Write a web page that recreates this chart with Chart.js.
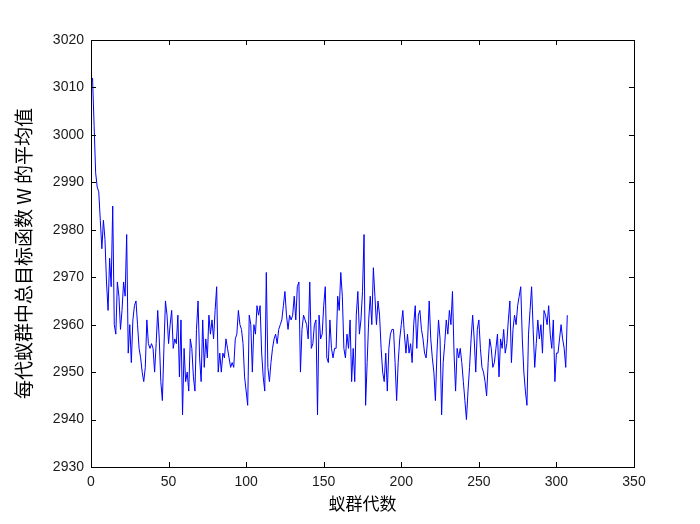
<!DOCTYPE html>
<html>
<head>
<meta charset="utf-8">
<script src="https://cdn.jsdelivr.net/npm/chart.js"></script>
<style>
  html, body { margin: 0; padding: 0; background: #fff; }
  #wrap { width: 700px; height: 524px; }
</style>
</head>
<body>
<div id="wrap"><canvas id="antChart" width="700" height="524"></canvas></div>
<script>
// average objective W for each ant generation
var avgW = [
  3012, 3002, 2992, 2989, 2988, 2982, 2976, 2982, 2978, 2969,
  2963, 2974, 2968, 2985, 2960, 2958, 2969, 2966, 2959, 2963,
  2969, 2966, 2979, 2954, 2960, 2952, 2961, 2964, 2965, 2960,
  2955, 2953, 2950, 2948, 2951, 2961, 2956, 2955, 2956, 2955,
  2950, 2956, 2963, 2957, 2948, 2944, 2955, 2965, 2962, 2956,
  2960, 2963, 2955, 2957, 2956, 2962, 2949, 2961, 2941, 2955,
  2948, 2950, 2946, 2957, 2955, 2949, 2946, 2959, 2965, 2953,
  2948, 2961, 2951, 2957, 2953, 2962, 2958, 2961, 2957, 2963,
  2968, 2950, 2954, 2950, 2954, 2953, 2957, 2955, 2953, 2951,
  2952, 2951, 2957, 2958, 2963, 2960, 2959, 2956, 2949,
  2946, 2943, 2962, 2960, 2950, 2960, 2958, 2964, 2962, 2964,
  2954, 2949, 2946, 2971, 2951, 2948, 2952, 2955, 2957, 2958,
  2956, 2959, 2960, 2961, 2964, 2967, 2962, 2959, 2962, 2961,
  2962, 2966, 2961, 2968, 2969, 2950, 2959, 2962, 2961, 2960,
  2957, 2969, 2955, 2956, 2960, 2961, 2941,
  2962, 2957, 2958, 2964, 2968, 2953, 2952, 2961, 2955, 2953,
  2955, 2955, 2966, 2963, 2971, 2966, 2955, 2953, 2958, 2955,
  2961, 2948, 2955, 2948, 2962, 2967, 2958, 2961, 2967, 2979,
  2943, 2952, 2961, 2966, 2960, 2972, 2966, 2960, 2965, 2962,
  2955, 2950, 2948, 2954, 2946, 2955, 2958, 2959, 2959,
  2952, 2944, 2952, 2957, 2960, 2963, 2958, 2954, 2958, 2954,
  2956, 2952, 2960, 2964, 2955, 2962, 2963, 2959, 2957, 2954,
  2953, 2957, 2965, 2957, 2953, 2950, 2944, 2954, 2961, 2957,
  2941, 2952, 2956, 2961, 2958, 2963, 2960, 2967, 2954, 2946,
  2955, 2953, 2955, 2952, 2948, 2944, 2940,
  2946, 2951, 2957, 2962, 2957, 2950, 2959, 2961, 2955, 2951,
  2950, 2948, 2945, 2952, 2957, 2955, 2951, 2952, 2955, 2958,
  2949, 2957, 2955, 2959, 2954, 2956, 2961, 2965, 2952, 2959,
  2962, 2960, 2964, 2966, 2968, 2957, 2950, 2946, 2943, 2958,
  2963, 2968, 2959, 2951, 2956, 2961, 2957, 2960, 2954, 2963,
  2962, 2960, 2964, 2958, 2955, 2961, 2948, 2954, 2954, 2957,
  2960, 2957, 2955, 2951, 2962
];
var xTicks = [0, 50, 100, 150, 200, 250, 300, 350];
var yTicks = [2930, 2940, 2950, 2960, 2970, 2980, 2990, 3000, 3010, 3020];
var xTitle = '蚁群代数';
var yTitle = '每代蚁群中总目标函数 W 的平均值';

var points = avgW.map(function(v, i){ return {x: i + 1, y: v}; });

// white page + matlab style box with inward ticks
var matlabBox = {
  id: 'matlabBox',
  beforeDraw: function(chart){
    var ctx = chart.ctx;
    ctx.save();
    ctx.fillStyle = '#fff';
    ctx.fillRect(0, 0, chart.width, chart.height);
    ctx.restore();
  },
  afterDraw: function(chart){
    var ctx = chart.ctx, a = chart.chartArea;
    var xs = chart.scales.x, ys = chart.scales.y;
    var len = 5;
    ctx.save();
    ctx.strokeStyle = '#000';
    ctx.lineWidth = 1;
    ctx.beginPath();
    xTicks.forEach(function(t){
      var px = Math.round(xs.getPixelForValue(t)) + 0.5;
      ctx.moveTo(px, a.bottom); ctx.lineTo(px, a.bottom - len);
      ctx.moveTo(px, a.top); ctx.lineTo(px, a.top + len);
    });
    yTicks.forEach(function(t){
      var py = Math.round(ys.getPixelForValue(t)) + 0.5;
      ctx.moveTo(a.left, py); ctx.lineTo(a.left + len, py);
      ctx.moveTo(a.right, py); ctx.lineTo(a.right - len, py);
    });
    ctx.stroke();
    ctx.strokeRect(Math.round(a.left) + 0.5, Math.round(a.top) + 0.5,
                   Math.round(a.right - a.left), Math.round(a.bottom - a.top));
    ctx.restore();
  }
};

var tickFont = {family: '"Liberation Sans", Arial, sans-serif', size: 14};
var plain = function(v){ return String(v); };

new Chart(document.getElementById('antChart'), {
  type: 'line',
  data: {
    datasets: [{
      data: points,
      borderColor: '#0000ff',
      borderWidth: 1,
      pointRadius: 0,
      tension: 0,
      fill: false
    }]
  },
  options: {
    responsive: false,
    devicePixelRatio: 1,
    animation: false,
    layout: {padding: {top: 40, right: 66, bottom: 0, left: 0}},
    plugins: {legend: {display: false}, tooltip: {enabled: false}},
    scales: {
      x: {
        type: 'linear',
        min: 0, max: 350,
        afterBuildTicks: function(s){ s.ticks = xTicks.map(function(v){ return {value: v}; }); },
        afterFit: function(s){ s.height = 57; },
        grid: {display: false, drawTicks: false},
        border: {display: false},
        ticks: {font: tickFont, color: '#1a1a1a', padding: 7, maxRotation: 0, callback: plain},
        title: {display: true, text: xTitle, color: '#000', padding: {top: 0, bottom: 10},
                font: {family: '"Noto Sans CJK SC", sans-serif', size: 17}}
      },
      y: {
        min: 2930, max: 3020,
        afterBuildTicks: function(s){ s.ticks = yTicks.map(function(v){ return {value: v}; }); },
        afterFit: function(s){ s.width = 91; },
        grid: {display: false, drawTicks: false},
        border: {display: false},
        ticks: {font: tickFont, color: '#1a1a1a', padding: 7, callback: plain},
        title: {display: true, text: yTitle, color: '#000', padding: {top: 12, bottom: 0},
                font: {family: '"Noto Sans CJK SC", sans-serif', size: 19}}
      }
    }
  },
  plugins: [matlabBox]
});
</script>
</body>
</html>
